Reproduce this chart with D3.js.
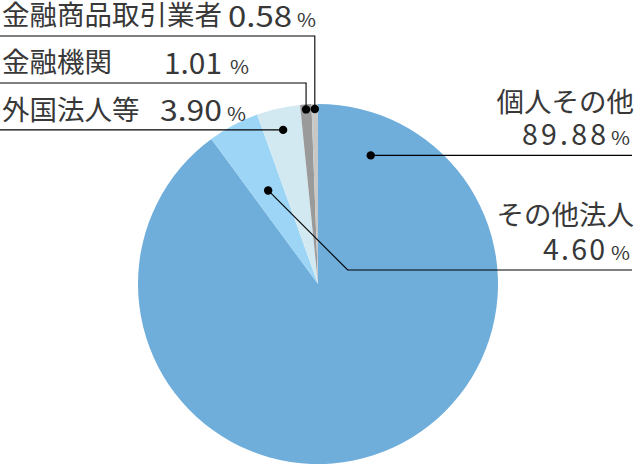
<!DOCTYPE html>
<html lang="ja">
<head>
<meta charset="UTF-8">
<title>株主構成</title>
<script src="https://d3js.org/d3.v7.min.js"></script>
<style>
  body { margin: 0; background: #fff; }
  svg text { font-family: "Noto Sans CJK JP", "Noto Sans", sans-serif; fill: #383838; }
</style>
</head>
<body>
<script>
// chart data (clockwise from 12 o'clock)
var names  = ["個人その他", "その他法人", "外国法人等", "金融機関", "金融商品取引業者"];
var values = [89.88, 4.60, 3.90, 1.01, 0.58];
var colors = ["#6fadda", "#9cd5f5", "#d3e9f2", "#9a9a9a", "#c8c8c8"];

var width = 640, height = 470;
var cx = 318, cy = 284, radius = 180;

var svg = d3.select("body").append("svg")
    .attr("width", width)
    .attr("height", height);

var pie = d3.pie().sort(null).value(function (d) { return d; });
var arc = d3.arc().innerRadius(0).outerRadius(radius);
var arcs = pie(values);

var g = svg.append("g").attr("transform", "translate(" + cx + "," + cy + ")");
g.selectAll("path")
    .data(arcs)
    .enter()
    .append("path")
    .attr("fill", function (d, i) { return colors[i]; })
    .attr("d", arc);

// label layout: dot radius (+ optional angle in deg), leader route,
// name position, number start / width, percent sign position
var labelLayout = [
  { r: 139, angle: 22.3, route: "flat", endX: 632,
    nameX: 634, nameY: 112, anchor: "end", numX: 522, numW: 84, adj: "spacing", numY: 145, pctX: 611 },
  { r: 106, route: "diag", lineY: 270, endX: 632,
    nameX: 634, nameY: 225, anchor: "end", numX: 543, numW: 62, adj: "spacing", numY: 260, pctX: 611 },
  { r: 158, route: "flat", endX: 0,
    nameX: 2, nameY: 120, anchor: "start", numX: 160, numW: 62, adj: "spacingAndGlyphs", numY: 121, pctX: 227 },
  { r: 175, route: "up", lineY: 83, endX: 0,
    nameX: 2, nameY: 72, anchor: "start", numX: 164, numW: 58, adj: "spacingAndGlyphs", numY: 74, pctX: 230 },
  { r: 175, route: "up", lineY: 36, endX: 0,
    nameX: 2, nameY: 25, anchor: "start", numX: 228, numW: 64, adj: "spacingAndGlyphs", numY: 27, pctX: 297 }
];

function dotPos(d, i) {
  var L = labelLayout[i];
  var a = L.angle != null ? L.angle * Math.PI / 180 : (d.startAngle + d.endAngle) / 2;
  return [cx + L.r * Math.sin(a), cy - L.r * Math.cos(a)];
}

var lines = svg.append("g");
arcs.forEach(function (d, i) {
  var L = labelLayout[i];
  var p = dotPos(d, i);
  var pts = [p];
  if (L.route === "flat") {
    pts.push([L.endX, p[1]]);
  } else if (L.route === "diag") {
    pts.push([p[0] + (L.lineY - p[1]), L.lineY], [L.endX, L.lineY]);
  } else if (L.route === "up") {
    pts.push([p[0], L.lineY], [L.endX, L.lineY]);
  }
  lines.append("path")
      .attr("d", d3.line()(pts))
      .attr("fill", "none")
      .attr("stroke", "#000")
      .attr("stroke-width", 1.1);
  lines.append("circle")
      .attr("cx", p[0]).attr("cy", p[1]).attr("r", 4.2)
      .attr("fill", "#000");
});

// texts
var labels = svg.append("g");
names.forEach(function (name, i) {
  var L = labelLayout[i];
  labels.append("text")
      .attr("x", L.nameX).attr("y", L.nameY)
      .attr("text-anchor", L.anchor)
      .attr("font-size", 27.5)
      .text(name);
  labels.append("text")
      .attr("x", L.numX).attr("y", L.numY)
      .attr("font-size", 28.5)
      .attr("textLength", L.numW)
      .attr("lengthAdjust", L.adj)
      .text(values[i].toFixed(2));
  labels.append("text")
      .attr("x", L.pctX).attr("y", L.numY)
      .attr("font-size", 18)
      .attr("textLength", 19)
      .attr("lengthAdjust", "spacingAndGlyphs")
      .text("%");
});
</script>
</body>
</html>
